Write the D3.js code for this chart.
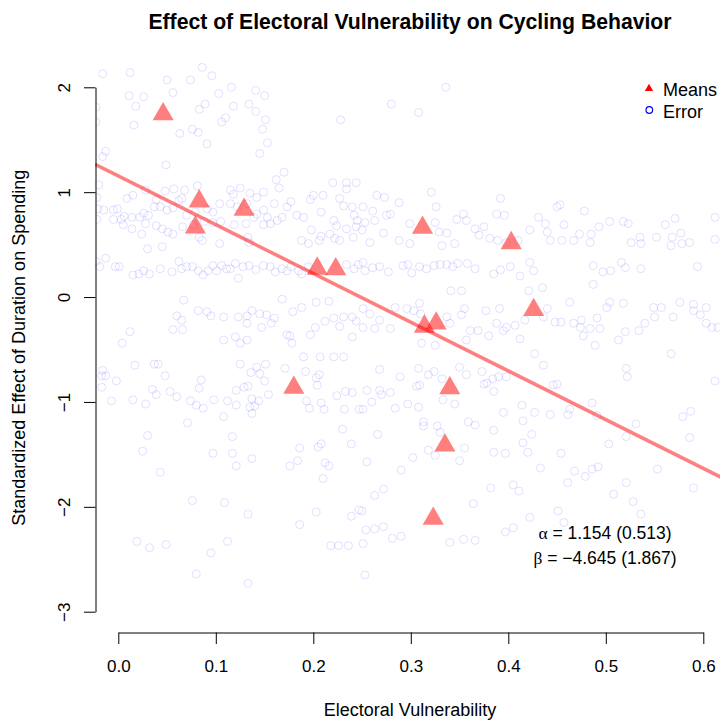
<!DOCTYPE html>
<html><head><meta charset="utf-8">
<script src="https://cdn.jsdelivr.net/npm/d3@7"></script>
<style>
body{margin:0;background:#fff}
svg{display:block}
text{font-family:"Liberation Sans",Arial,Helvetica,sans-serif;fill:#000}
</style>
</head><body>
<svg id="chart" width="720" height="721"></svg>
<script>
// ---------------- data ----------------
const chartTitle = "Effect of Electoral Vulnerability on Cycling Behavior";
const xTitle = "Electoral Vulnerability";
const yTitle = "Standardized Effect of Duration on Spending";
const xTicks = [0, 0.1, 0.2, 0.3, 0.4, 0.5, 0.6];
const xTickLabels = ["0.0", "0.1", "0.2", "0.3", "0.4", "0.5", "0.6"];
const yTicks = [2, 1, 0, -1, -2, -3];
const yTickLabels = ["2", "1", "0", "\u22121", "\u22122", "\u22123"];
const legendLabels = ["Means", "Error"];

const meanX = [0.046, 0.083, 0.079, 0.129, 0.204, 0.223, 0.312, 0.403, 0.426, 0.314, 0.326, 0.180, 0.340, 0.335, 0.323];
const meanY = [1.743, 0.913, 0.663, 0.833, 0.272, 0.265, 0.662, 0.515, -0.123, -0.281, -0.252, -0.863, -0.868, -1.415, -2.113];

const alphaEst = 1.154, alphaSE = 0.513;
const betaEst = -4.645, betaSE = 1.867;

const errorPoints = [
[-0.016,2.13],[0.012,2.14],[0.086,2.19],[0.096,2.11],[0.050,2.07],[0.074,2.07],[0.056,1.95],[0.011,1.92],[0.026,1.91],[0.018,1.82],[-0.023,1.81],[0.089,1.84],[0.083,1.79],[0.103,1.94],[0.116,2.00],[0.141,1.97],[0.150,1.92],[0.134,1.84],[0.118,1.82],[0.141,1.77],[0.151,1.69],[-0.023,1.67],[0.016,1.64],[0.106,1.67],[0.110,1.71],[0.076,1.60],[0.082,1.57],[0.063,1.56],[0.091,1.46],[0.148,1.60],[0.153,1.47],[0.145,1.37],[0.228,1.69],[-0.013,1.39],[-0.016,1.34],[0.049,1.26],[0.170,1.19],[0.162,1.12],[0.165,1.04],
[-0.020,1.07],[-0.022,0.95],[0.009,0.94],[0.015,0.97],[0.028,1.02],[0.039,0.93],[0.048,1.01],[0.057,1.03],[0.068,1.02],[0.081,1.06],[0.115,1.02],[0.125,1.04],[0.118,0.98],[0.135,0.99],[0.142,0.95],[0.149,1.00],[0.200,0.97],[0.210,0.97],[0.220,1.09],[0.234,1.09],[0.234,1.03],[0.244,1.09],
[-0.021,0.84],[-0.015,0.83],[-0.005,0.83],[-0.001,0.84],[0.006,0.77],[0.003,0.74],[0.014,0.76],[0.022,0.76],[0.026,0.80],[0.031,0.78],[0.037,0.86],[0.043,0.86],[0.050,0.83],[0.056,0.85],[0.062,0.92],[0.065,0.94],[0.070,0.78],[0.079,0.81],[0.091,0.84],[0.097,0.81],[0.104,0.89],[0.115,0.89],[0.122,0.86],[0.132,0.89],[0.142,0.79],[0.149,0.83],[0.153,0.76],[0.160,0.89],[0.163,0.73],[0.168,0.76],[0.173,0.86],[0.177,0.91],[0.183,0.78],[0.190,0.76],[0.197,0.93],[0.208,0.81],[0.221,0.73],[0.224,0.68],[0.227,0.94],[0.231,0.87],[0.240,0.86],[0.242,0.78],[0.244,0.67],[0.245,0.73],
[-0.022,0.74],[-0.005,0.74],[0.005,0.69],[0.014,0.65],[0.024,0.60],[0.028,0.70],[0.039,0.68],[0.045,0.65],[0.051,0.62],[0.056,0.60],[0.066,0.67],[0.077,0.69],[0.088,0.72],[0.097,0.71],[0.105,0.72],[0.119,0.69],[0.131,0.70],[0.139,0.76],[0.149,0.69],[0.156,0.70],[0.198,0.64],[0.208,0.58],[0.217,0.60],[0.227,0.54],[0.234,0.65],[0.241,0.57],
[0.030,0.46],[0.045,0.48],[0.083,0.57],[0.086,0.54],[0.104,0.51],[0.133,0.57],[0.134,0.52],[0.188,0.54],[0.195,0.51],[0.206,0.54],[0.222,0.56],
[-0.023,0.34],[-0.019,0.29],[-0.013,0.37],[-0.003,0.29],[0.001,0.29],[0.015,0.21],[0.021,0.22],[0.026,0.25],[0.032,0.22],[0.043,0.27],[0.055,0.24],[0.062,0.34],[0.065,0.27],[0.070,0.29],[0.076,0.29],[0.082,0.25],[0.087,0.21],[0.092,0.25],[0.097,0.30],[0.101,0.25],[0.106,0.30],[0.111,0.27],[0.115,0.27],[0.120,0.32],[0.123,0.18],[0.128,0.29],[0.134,0.30],[0.141,0.26],[0.149,0.30],[0.156,0.29],[0.161,0.24],[0.168,0.27],[0.173,0.25],[0.177,0.29],[0.185,0.25],[0.188,0.22],[0.195,0.29],[0.234,0.31],[0.242,0.27],[0.246,0.31],
[0.067,-0.03],[0.082,-0.13],[0.091,-0.14],[0.095,-0.18],[0.108,-0.19],[0.123,-0.19],[0.132,-0.18],[0.137,-0.13],[0.145,-0.16],[0.152,-0.17],[0.160,-0.20],[0.168,-0.02],[0.179,-0.14],[0.188,-0.10],[0.203,-0.05],[0.216,-0.04],[0.221,-0.20],[0.231,-0.19],[0.240,-0.19],[0.244,-0.23],[0.060,-0.18],[0.065,-0.22],[0.056,-0.31],[0.066,-0.31],[0.132,-0.25],[0.147,-0.29],[0.157,-0.25],[0.173,-0.36],[0.197,-0.36],[0.202,-0.29],[0.212,-0.23],[0.227,-0.28],[0.240,-0.38],[0.012,-0.33],[0.004,-0.44],[0.108,-0.41],[0.120,-0.38],[0.125,-0.44],[0.132,-0.41],[0.176,-0.37],[0.178,-0.44],[0.190,-0.57],[0.207,-0.57],[0.221,-0.57],[0.231,-0.57],
[0.017,-0.65],[0.037,-0.64],[0.041,-0.64],[-0.016,-0.70],[-0.013,-0.75],[-0.017,-0.75],[-0.002,-0.80],[-0.017,-0.86],[-0.007,-0.99],[0.015,-0.98],[0.028,-1.02],[0.035,-0.88],[0.039,-0.93],[0.048,-0.75],[0.053,-0.90],[0.060,-0.95],[0.074,-0.99],[0.080,-1.03],[0.085,-0.79],[0.083,-0.87],[0.087,-1.06],[0.098,-0.98],[0.112,-0.99],[0.121,-1.03],[0.121,-0.89],[0.125,-0.64],[0.129,-0.86],[0.133,-0.85],[0.136,-0.72],[0.142,-0.67],[0.145,-0.73],[0.151,-0.64],[0.150,-0.80],[0.154,-0.93],[0.137,-0.97],[0.135,-1.05],[0.140,-1.04],[0.137,-1.11],[0.144,-0.99],[0.171,-0.68],[0.192,-0.71],[0.203,-0.77],[0.206,-0.74],[0.204,-0.84],[0.193,-0.99],[0.196,-1.06],[0.208,-1.01],[0.211,-1.07],[0.224,-0.94],[0.233,-0.90],[0.240,-0.91],[0.232,-1.07],[0.247,-1.07],
[0.071,-1.20],[0.030,-1.32],[0.025,-1.47],[0.043,-1.67],[0.097,-1.49],[0.117,-1.33],[0.117,-1.49],[0.121,-1.61],[0.137,-1.54],[0.108,-1.14],[0.176,-1.61],[0.184,-1.56],[0.186,-1.44],[0.205,-1.43],[0.208,-1.40],[0.212,-1.58],[0.216,-1.61],[0.210,-1.73],[0.230,-1.26],[0.239,-1.40],
[0.076,-1.94],[0.109,-1.96],[0.133,-2.07],[0.203,-2.05],[0.239,-2.09],[0.247,-2.03],[0.186,-2.17],[0.019,-2.33],[0.032,-2.39],[0.049,-2.36],[0.112,-2.33],[0.095,-2.44],[0.218,-2.37],[0.226,-2.37],[0.236,-2.37],[0.080,-2.64],[0.133,-2.73],
[0.336,2.00],[0.280,1.84],[0.308,1.76],[0.321,1.00],[0.392,0.94],[0.453,0.88],[0.478,0.82],[0.265,0.97],[0.273,0.95],[0.251,0.86],[0.261,0.82],[0.263,0.73],[0.253,0.71],[0.275,0.78],[0.279,0.79],[0.288,0.90],[0.250,0.64],[0.258,0.52],[0.272,0.61],[0.288,0.54],[0.299,0.51],[0.299,0.70],[0.326,0.86],[0.325,0.71],[0.329,0.62],[0.332,0.49],[0.337,0.61],[0.345,0.51],[0.347,0.74],[0.354,0.79],[0.357,0.73],[0.366,0.65],[0.370,0.59],[0.375,0.67],[0.381,0.56],[0.388,0.79],[0.396,0.78],[0.389,0.54],[0.398,0.52],[0.410,0.54],[0.422,0.64],[0.431,0.76],[0.438,0.70],[0.440,0.62],[0.443,0.54],[0.455,0.54],[0.457,0.69],[0.467,0.54],[0.473,0.60],[0.484,0.52],[0.485,0.60],[0.493,0.67],[0.504,0.72],[0.518,0.72],[0.523,0.70],[0.526,0.52],[0.535,0.57],[0.536,0.51],[0.552,0.57],[0.561,0.69],[0.568,0.57],[0.571,0.75],[0.567,0.49],[0.577,0.61],[0.578,0.51],[0.586,0.52],[0.612,0.76],[0.612,0.55],[0.450,0.86],
[0.251,0.33],[0.253,0.25],[0.261,0.28],[0.268,0.29],[0.277,0.24],[0.292,0.30],[0.297,0.31],[0.301,0.23],[0.309,0.29],[0.316,0.27],[0.324,0.30],[0.330,0.31],[0.337,0.31],[0.343,0.29],[0.348,0.32],[0.358,0.32],[0.366,0.27],[0.385,0.22],[0.392,0.26],[0.402,0.29],[0.412,0.20],[0.422,0.33],[0.426,0.25],[0.487,0.30],[0.497,0.24],[0.505,0.25],[0.516,0.33],[0.520,0.28],[0.536,0.27],[0.594,0.29],[0.487,0.12],[0.341,0.06],[0.352,0.06],[0.435,0.09],
[0.251,-0.11],[0.258,-0.16],[0.251,-0.29],[0.263,-0.30],[0.268,-0.22],[0.279,-0.30],[0.284,-0.10],[0.296,-0.11],[0.303,-0.13],[0.309,-0.06],[0.310,-0.16],[0.311,-0.44],[0.325,-0.46],[0.337,-0.19],[0.340,-0.25],[0.352,-0.17],[0.355,-0.11],[0.361,-0.32],[0.369,-0.32],[0.377,-0.13],[0.380,-0.37],[0.388,-0.25],[0.391,-0.11],[0.395,-0.32],[0.398,-0.29],[0.407,-0.27],[0.412,-0.40],[0.417,-0.22],[0.421,0.06],[0.427,-0.54],[0.436,-0.19],[0.440,-0.11],[0.448,-0.24],[0.454,-0.24],[0.463,-0.05],[0.467,-0.25],[0.474,-0.29],[0.475,-0.22],[0.477,-0.37],[0.484,-0.30],[0.489,-0.46],[0.491,-0.20],[0.494,-0.30],[0.501,-0.10],[0.504,-0.05],[0.513,-0.41],[0.518,-0.06],[0.520,-0.33],[0.534,-0.32],[0.540,-0.25],[0.549,-0.10],[0.550,-0.19],[0.557,-0.10],[0.567,-0.54],[0.569,-0.19],[0.576,-0.05],[0.590,-0.07],[0.590,-0.13],[0.597,-0.17],[0.603,-0.10],[0.603,-0.25],[0.609,-0.29],[0.615,-0.29],
[0.357,-0.41],[0.436,-0.65],[0.268,-0.69],[0.289,-0.76],[0.308,-0.68],[0.318,-0.74],[0.324,-0.71],[0.332,-0.78],[0.350,-0.67],[0.357,-0.74],[0.373,-0.71],[0.378,-0.82],[0.384,-0.78],[0.390,-0.76],[0.398,-0.76],[0.255,-0.89],[0.268,-0.89],[0.270,-0.93],[0.279,-0.91],[0.260,-1.00],[0.251,-1.07],[0.284,-1.06],[0.297,-1.02],[0.308,-1.05],[0.306,-0.85],[0.309,-0.84],[0.345,-1.02],[0.333,-0.98],[0.375,-0.83],[0.385,-0.90],[0.395,-1.10],[0.414,-1.03],[0.427,-1.10],[0.443,-1.12],[0.446,-0.84],[0.450,-0.83],[0.461,-1.12],[0.463,-1.07],[0.486,-1.01],[0.491,-1.13],[0.521,-0.68],[0.522,-0.76],[0.579,-1.14],[0.587,-1.09],[0.612,-0.80],
[0.266,-1.31],[0.313,-1.19],[0.313,-1.23],[0.327,-1.23],[0.330,-1.29],[0.318,-1.46],[0.325,-1.51],[0.302,-1.53],[0.290,-1.65],[0.255,-1.57],[0.350,-1.56],[0.355,-1.44],[0.359,-1.19],[0.366,-1.22],[0.385,-1.27],[0.385,-1.48],[0.397,-1.49],[0.415,-1.18],[0.415,-1.39],[0.420,-1.48],[0.424,-1.31],[0.433,-1.63],[0.454,-1.49],[0.468,-1.66],[0.479,-1.71],[0.486,-1.64],[0.492,-1.62],[0.461,-1.77],[0.503,-1.40],[0.521,-1.33],[0.531,-1.21],[0.553,-1.64],[0.586,-1.34],[0.590,-1.82],[0.521,-1.77],[0.508,-1.88],[0.528,-1.95],[0.536,-2.07],[0.272,-1.83],[0.263,-1.89],[0.382,-1.82],[0.405,-1.79],[0.411,-1.85],[0.364,-1.97],[0.250,-2.04],[0.254,-2.22],[0.263,-2.21],[0.272,-2.19],[0.281,-2.30],[0.290,-2.28],[0.251,-2.35],[0.340,-2.34],[0.354,-2.31],[0.366,-2.32],[0.397,-2.24],[0.405,-2.20],[0.422,-2.10],[0.451,-2.04],[0.457,-2.15],[0.253,-2.65]
];

// ---------------- layout ----------------
const plot = {left: 95.5, top: 63, right: 726, bottom: 632.5};
const x = d3.scaleLinear().domain([0, 0.6]).range([118.3, 703.3]);
const y = d3.scaleLinear().domain([-3, 2]).range([611.7, 87.3]);
const FONT = '"Liberation Sans",Arial,Helvetica,sans-serif';

const svg = d3.select("#chart");
svg.append("rect").attr("width", 720).attr("height", 721).attr("fill", "#fff");

svg.append("defs").append("clipPath").attr("id", "plotClip")
  .append("rect")
  .attr("x", plot.left - 0.5).attr("y", plot.top)
  .attr("width", plot.right - plot.left).attr("height", plot.bottom - plot.top);

const g = svg.append("g").attr("clip-path", "url(#plotClip)");

// error circles
g.append("g").selectAll("circle").data(errorPoints).join("circle")
  .attr("cx", d => x(d[0])).attr("cy", d => y(d[1])).attr("r", 4)
  .attr("fill", "none").attr("stroke", "rgba(0,0,255,0.12)").attr("stroke-width", 1);

// regression line
const xs = [x.invert(plot.left - 0.5), x.invert(plot.right)];
g.append("path")
  .datum(xs.map(v => [v, alphaEst + betaEst * v]))
  .attr("d", d3.line().x(d => x(d[0])).y(d => y(d[1])))
  .attr("fill", "none").attr("stroke", "rgba(255,0,0,0.5)").attr("stroke-width", 3.5);

// means triangles
const tri = d3.symbol().type(d3.symbolTriangle).size(193);
g.append("g").selectAll("path").data(meanX.map((v, i) => [v, meanY[i]])).join("path")
  .attr("d", tri)
  .attr("transform", d => `translate(${x(d[0])},${y(d[1])})`)
  .attr("fill", "rgba(255,0,0,0.5)");

// x axis
const xAxis = svg.append("g").attr("transform", `translate(0,${plot.bottom})`)
  .call(d3.axisBottom(x).tickValues(xTicks).tickFormat((d, i) => xTickLabels[i])
    .tickSizeInner(11.5).tickSizeOuter(0));
xAxis.selectAll("path,line").attr("stroke", "#000");
xAxis.selectAll("text").attr("y", 39.5).attr("dy", null)
  .attr("font-size", 17).attr("font-family", FONT).attr("fill", "#000");

// y axis
const yAxis = svg.append("g").attr("transform", `translate(${plot.left},0)`)
  .call(d3.axisLeft(y).tickValues(yTicks).tickFormat((d, i) => yTickLabels[i])
    .tickSizeInner(11.5).tickSizeOuter(0));
yAxis.selectAll("path,line").attr("stroke", "#000");
yAxis.selectAll("text")
  .attr("x", null).attr("y", null).attr("dy", null).attr("text-anchor", "middle")
  .attr("transform", `translate(${70 - plot.left},0) rotate(-90)`)
  .attr("font-size", 17).attr("font-family", FONT).attr("fill", "#000");

// titles
svg.append("text").attr("x", 410).attr("y", 28.5).attr("text-anchor", "middle")
  .attr("font-size", 21.2).attr("font-weight", "bold").text(chartTitle);
svg.append("text").attr("x", 410).attr("y", 715.5).attr("text-anchor", "middle")
  .attr("font-size", 18).text(xTitle);
svg.append("text").attr("transform", `translate(25,${(plot.top + plot.bottom) / 2}) rotate(-90)`)
  .attr("text-anchor", "middle").attr("font-size", 18).text(yTitle);

// legend
const leg = svg.append("g");
leg.append("path").attr("d", d3.symbol().type(d3.symbolTriangle).size(30))
  .attr("transform", "translate(649,88.5)").attr("fill", "#ff0000");
leg.append("circle").attr("cx", 649.3).attr("cy", 110).attr("r", 3.3)
  .attr("fill", "none").attr("stroke", "#0000ff").attr("stroke-width", 1.2);
leg.selectAll("text").data(legendLabels).join("text")
  .attr("x", 663).attr("y", (d, i) => 95.5 + i * 22).attr("font-size", 18).text(d => d);

// coefficient annotation
const fmt = d3.format(".3f");
const ann = svg.append("g").attr("font-size", 17.5);
const a1 = ann.append("text").attr("x", 605).attr("y", 539).attr("text-anchor", "middle");
a1.append("tspan").attr("font-family", '"Liberation Serif","DejaVu Serif",serif').text("\u03b1");
a1.append("tspan").text(` = ${fmt(alphaEst)} (${fmt(alphaSE)})`);
const a2 = ann.append("text").attr("x", 605).attr("y", 564).attr("text-anchor", "middle");
a2.append("tspan").attr("font-family", '"Liberation Serif","DejaVu Serif",serif').text("\u03b2");
a2.append("tspan").text(` = ${fmt(betaEst).replace("-", "\u2212")} (${fmt(betaSE)})`);
</script>
</body></html>
